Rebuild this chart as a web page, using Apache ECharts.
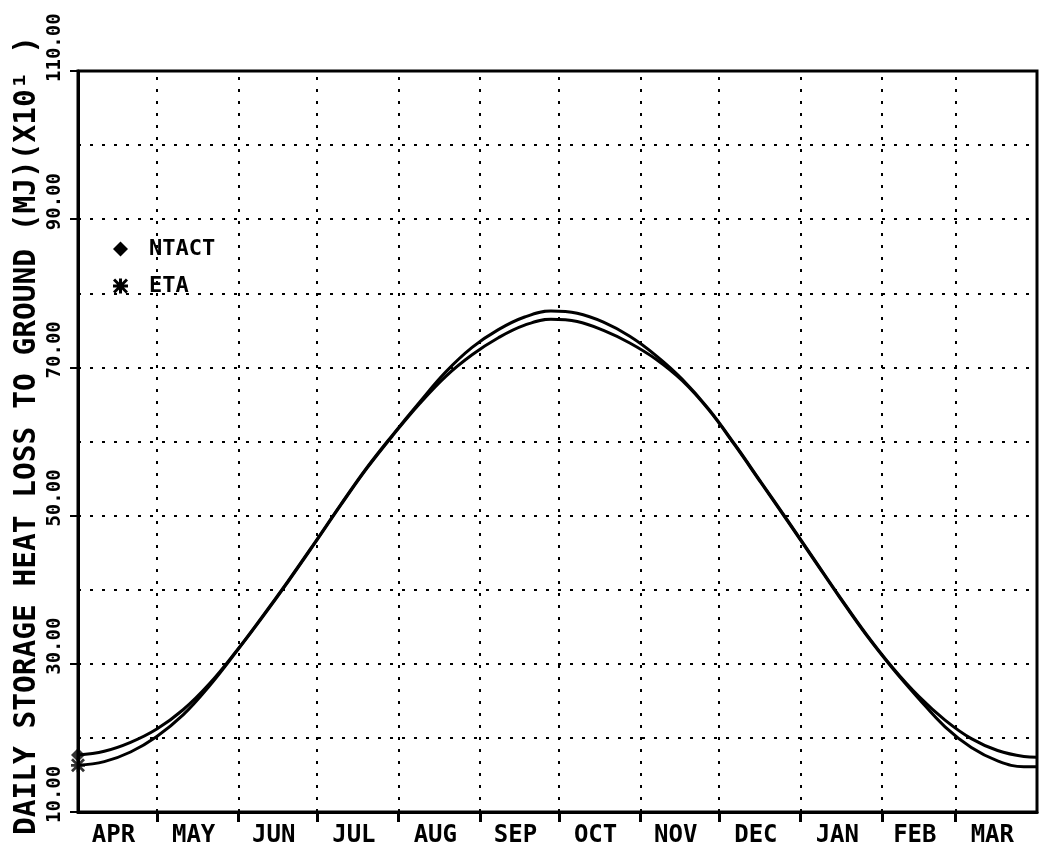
<!DOCTYPE html>
<html>
<head>
<meta charset="utf-8">
<script src="https://cdn.jsdelivr.net/npm/echarts@6/dist/echarts.min.js"></script>
<style>
html,body{margin:0;padding:0;background:#fff;}
#chart{width:1044px;height:848px;}
</style>
</head>
<body>
<div id="chart"></div>
<script>
// ---- data ----
const monthNames = ['APR','MAY','JUN','JUL','AUG','SEP','OCT','NOV','DEC','JAN','FEB','MAR'];
const monthDays = [30,31,30,31,31,30,31,30,31,31,28,31];
const dayOfYear = [0,10,20,30,40,50,60,70,80,90,100,110,120,130,140,150,160,170,180,190,200,210,220,230,240,250,260,270,280,290,300,310,320,330,340,350,360,365];
const ntact = [17.7,18.2,19.4,21.2,23.8,27.3,31.6,36.3,41.2,46.3,51.5,56.5,61.0,65.3,69.4,72.7,75.1,76.8,77.6,77.3,76.1,74.2,71.6,68.4,64.4,59.6,54.5,49.4,44.2,39.0,34.0,29.5,25.6,22.4,19.9,18.3,17.5,17.4];
const eta   = [16.3,16.8,18.1,20.2,23.1,27.0,31.5,36.2,41.1,46.2,51.4,56.4,60.9,65.1,68.8,71.7,74.0,75.7,76.5,76.2,75.0,73.3,71.1,68.2,64.3,59.5,54.4,49.3,44.1,38.9,33.9,29.4,25.3,21.5,18.7,16.9,16.1,16.1];
const yTickLabels = [10,30,50,70,90,110];
const yMinorGrid = [20,40,60,80,100];
const yTitle = 'DAILY STORAGE HEAT LOSS TO GROUND (MJ)(X10\u00B9 )';

// ---- derived ----
const boundaries = [];
const mids = [];
let acc = 0;
monthDays.forEach(d => { mids.push(acc + d / 2 - 1.5); acc += d; boundaries.push(acc); });
const innerBounds = boundaries.slice(0, -1);
const midToName = {};
mids.forEach((m, i) => { midToName[m.toFixed(2)] = monthNames[i]; });

const FONT = '"DejaVu Sans Mono", monospace';
const dots = [3, 9];
const asterisk = 'path://M0,4L10,4L10,6L0,6Z M4,0L6,0L6,10L4,10Z M1.4,0L10,8.6L8.6,10L0,1.4Z M8.6,0L10,1.4L1.4,10L0,8.6Z';

const chart = echarts.init(document.getElementById('chart'), null, {renderer: 'canvas'});
chart.setOption({
  animation: false,
  backgroundColor: '#fff',
  grid: {left: 78, top: 71, right: 7, bottom: 36, containLabel: false, outerBoundsMode: 'none',
         show: true, borderColor: '#000', borderWidth: 3},
  legend: {
    data: [{name: 'NTACT', icon: 'diamond'}, {name: 'ETA', icon: asterisk}],
    orient: 'vertical', left: 108, top: 233,
    itemWidth: 15, itemHeight: 15, itemGap: 15, selectedMode: false,
    textStyle: {fontFamily: FONT, fontWeight: 'bold', fontSize: 22, color: '#000', padding: [0,0,0,16], lineHeight: 16}
  },
  xAxis: {
    type: 'value', min: 0, max: 365,
    axisLine: {show: true, lineStyle: {color: '#000', width: 3}},
    axisTick: {show: true, customValues: innerBounds, length: 10, inside: false, lineStyle: {color: '#000', width: 3}},
    axisLabel: {show: true, customValues: mids, margin: 12, fontFamily: FONT, fontWeight: 'bold', fontSize: 24, color: '#000',
      formatter: v => midToName[Number(v).toFixed(2)] || ''},
    splitLine: {show: false}
  },
  yAxis: {
    type: 'value', min: 10, max: 110, interval: 10,
    name: yTitle, nameLocation: 'middle', nameGap: 36, nameRotate: 90, nameMoveOverlap: false,
    nameTextStyle: {fontFamily: FONT, fontWeight: 'bold', fontSize: 29.5, color: '#000', padding: [0,0,0,12]},
    axisLine: {show: true, lineStyle: {color: '#000', width: 3}},
    axisTick: {show: true, customValues: yTickLabels, length: 8, lineStyle: {color: '#000', width: 2}},
    axisLabel: {show: true, rotate: 90, align: 'left', verticalAlign: 'middle', margin: 23, padding: [0,0,0,-11],
      fontFamily: FONT, fontWeight: 'bold', fontSize: 19, color: '#000',
      formatter: v => yTickLabels.indexOf(v) >= 0 ? v.toFixed(2) : ''},
    splitLine: {show: true, lineStyle: {color: '#000', width: 2, type: dots}}
  },
  series: [
    {name: 'NTACT', type: 'line', data: dayOfYear.map((d, i) => [d, ntact[i]]), symbol: 'none', smooth: 0.4,
     itemStyle: {color: '#000'}, lineStyle: {color: '#000', width: 3},
     markLine: {silent: true, symbol: ['none','none'], label: {show: false},
       lineStyle: {color: '#000', width: 2, type: dots},
       data: innerBounds.map(b => ({xAxis: b})).concat(yMinorGrid.map(v => ({yAxis: v})))}},
    {name: 'ETA', type: 'line', data: dayOfYear.map((d, i) => [d, eta[i]]), symbol: 'none', smooth: 0.4,
     itemStyle: {color: '#000'}, lineStyle: {color: '#000', width: 3}},
    {name: 'NTACT', type: 'scatter', data: [[dayOfYear[0], ntact[0]]], symbol: 'diamond', symbolSize: 14,
     itemStyle: {color: '#000'}, clip: false},
    {name: 'ETA', type: 'scatter', data: [[dayOfYear[0], eta[0]]], symbol: asterisk, symbolSize: 14,
     itemStyle: {color: '#000'}, clip: false}
  ]
});
</script>
</body>
</html>
